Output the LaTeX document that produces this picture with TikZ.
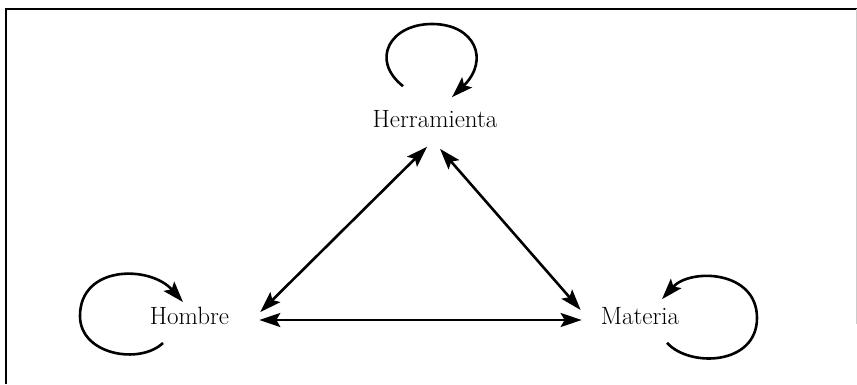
\documentclass[tikz,border=0pt]{standalone}
\usepackage{tikz}
\usetikzlibrary{arrows.meta,calc}

\begin{document}
\begin{tikzpicture}[x=1pt, y=1pt,
    every node/.style={font=\fontsize{25}{30}\selectfont},
    term/.style={inner sep=0pt},
    frame/.style={line width=2.6pt},
    arr/.style={-{Stealth[length=21pt, width=14pt, inset=4pt]}, line width=2.6pt},
    dbl/.style={{Stealth[length=21pt, width=14pt, inset=4pt]}-{Stealth[length=21pt, width=14pt, inset=4pt]}, line width=2.6pt}]
  \useasboundingbox (0,0) rectangle (857,384);
  % open frame
  \draw[frame] (6,0) -- (6,375) -- (857,375);
  \draw[gray!40, line width=1pt] (856,375) -- (856,60);
  \node[term] (her) at (435,265) {Herramienta};
  \node[term] (hom) at (189.5,68) {Hombre};
  \node[term] (mat) at (640,68) {Materia};
  \draw[dbl] ([shift={(-8,-19)}]her.south) -- ([shift={(31,4)}]hom.east);
  \draw[dbl] ([shift={(5,-21)}]her.south) -- ([shift={(-20,6)}]mat.west);
  \draw[dbl] ([shift={(30,-4)}]hom.east) -- ([shift={(-19,-4)}]mat.west);
  % self loops
  \draw[arr] ([shift={(-32,24)}]her.north) .. controls (370,324) and (390,360) .. (432,360)
             .. controls (475,360) and (490,324) .. ([shift={(17,13)}]her.north);
  \draw[arr] ([shift={(-26.5,-18)}]hom.south) .. controls (140,19) and (80,29) .. (80,68)
             .. controls (80,119) and (150,119) .. ([shift={(-6.5,5)}]hom.north);
  \draw[arr] ([shift={(27,-18)}]mat.south) .. controls (690,16) and (757,19) .. (757,66)
             .. controls (757,114) and (690,116) .. ([shift={(22,8)}]mat.north);
\end{tikzpicture}
\end{document}
